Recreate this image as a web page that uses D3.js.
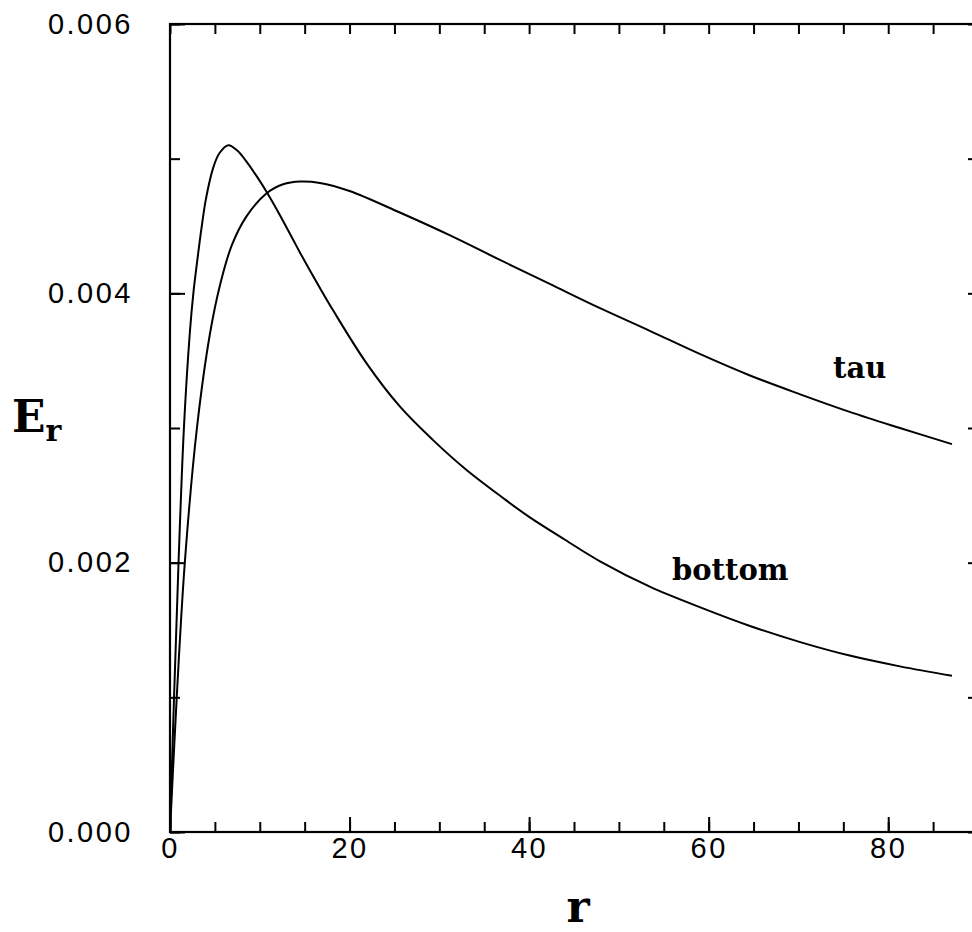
<!DOCTYPE html>
<html lang="en">
<head>
    <meta charset="UTF-8">
    <title>E_r vs r</title>
    <script src="https://cdn.jsdelivr.net/npm/d3@7"></script>
    <style>
        body { margin: 0; background: #fff; }
        .tick text { font-family: "Liberation Sans", Arial, sans-serif; font-size: 29px; letter-spacing: 2.5px; fill: #000; }
        .lbl { font-family: "DejaVu Serif", serif; font-weight: bold; fill: #000; }
    </style>
</head>
<body>
    <div id="root"></div>
    <script>
        // values (E in absolute units)
        const bottomR = [0, 0.45, 0.95, 1.55, 2.2, 2.6, 3.05, 3.5, 4.0, 4.8, 5.5, 6.5, 7.5, 8.5, 9.65, 10.7,
                         12.0, 13.7, 14.5, 16.7, 18.2, 21.9, 25.6, 29.3, 33.0, 37.1, 40, 44, 47.9, 53.5,
                         59.0, 64.6, 70.2, 75.7, 81.3, 87.1];
        const bottomE = [0, 0.00100, 0.00200, 0.00300, 0.00370, 0.00400, 0.00425, 0.00448, 0.00470, 0.00493,
                         0.00504, 0.00510, 0.00506, 0.00498, 0.00487, 0.00476, 0.00461, 0.00440, 0.00430,
                         0.00404, 0.00387, 0.00348, 0.00316, 0.00291, 0.00269, 0.00248, 0.00234, 0.00217,
                         0.00201, 0.00182, 0.00167, 0.00153, 0.00141, 0.00131, 0.00123, 0.00116];
        const tauR = [0, 0.75, 1.65, 3.0, 4.45, 5.6, 6.9, 8.5, 10.7, 12.6, 14.5, 16.7, 20.0, 25.6, 31.2,
                      36.7, 42.3, 47.9, 53.5, 59.0, 64.6, 70.2, 75.7, 81.3, 87.1];
        const tauE = [0, 0.00100, 0.00200, 0.00300, 0.00370, 0.00407, 0.00436, 0.00457, 0.00474, 0.00481,
                      0.00483, 0.00482, 0.00476, 0.00460, 0.00443, 0.00425, 0.00407, 0.00389, 0.00372,
                      0.00355, 0.00339, 0.00325, 0.00312, 0.00300, 0.00288];
        const xMajor = [0, 20, 40, 60, 80];
        const xMinor = d3.range(0, 90, 5);
        const yMajor = [0, 0.002, 0.004, 0.006];
        const yMinor = [0, 0.001, 0.002, 0.003, 0.004, 0.005, 0.006];
        const yLabels = ["0.000", "0.002", "0.004", "0.006"];

        const W = 972, H = 932;
        const x = d3.scaleLinear().domain([0, 90]).range([170, 978]);
        const y = d3.scaleLinear().domain([0, 0.006]).range([832, 24]);

        const svg = d3.select('#root').append('svg')
            .attr('width', W).attr('height', H);

        // bottom axis: minor + major ticks
        svg.append('g').attr('transform', `translate(0,${y(0)})`)
            .call(d3.axisBottom(x).tickValues(xMinor).tickSize(-10).tickFormat(''))
            .call(g => g.select('.domain').remove());
        svg.append('g').attr('transform', `translate(0,${y(0)})`)
            .call(d3.axisBottom(x).tickValues(xMajor).tickSize(-15).tickPadding(5).tickFormat(d3.format('d')))
            .call(g => g.select('.domain').remove());

        // top axis: uniform ticks
        svg.append('g').attr('transform', `translate(0,${y(0.006)})`)
            .call(d3.axisTop(x).tickValues(xMinor).tickSize(-10).tickFormat(''))
            .call(g => g.select('.domain').remove());

        // left axis
        svg.append('g').attr('transform', `translate(${x(0)},0)`)
            .call(d3.axisLeft(y).tickValues(yMinor).tickSize(-10).tickFormat(''))
            .call(g => g.select('.domain').remove());
        svg.append('g').attr('transform', `translate(${x(0)},0)`)
            .call(d3.axisLeft(y).tickValues(yMajor).tickSize(-15).tickPadding(37)
                .tickFormat((d, i) => yLabels[i]))
            .call(g => g.select('.domain').remove());

        // right axis
        svg.append('g').attr('transform', `translate(${x(90)},0)`)
            .call(d3.axisRight(y).tickValues(yMinor).tickSize(-10).tickFormat(''))
            .call(g => g.select('.domain').remove());

        svg.selectAll('.tick line').attr('stroke', '#000').attr('stroke-width', 2);

        // frame
        svg.append('rect')
            .attr('x', x(0)).attr('y', y(0.006))
            .attr('width', x(90) - x(0)).attr('height', y(0) - y(0.006))
            .attr('fill', 'none').attr('stroke', '#000').attr('stroke-width', 2.2);

        const line = d3.line()
            .x(d => x(d[0])).y(d => y(d[1]))
            .curve(d3.curveCatmullRom.alpha(0.5));

        const series = [
            { r: bottomR, e: bottomE },
            { r: tauR, e: tauE }
        ];
        svg.selectAll('path.curve')
            .data(series)
            .enter()
            .append('path')
            .attr('class', 'curve')
            .attr('d', s => line(s.r.map((r, i) => [r, s.e[i]])))
            .attr('fill', 'none')
            .attr('stroke', '#000')
            .attr('stroke-width', 2);

        // curve labels
        svg.append('text').attr('class', 'lbl')
            .attr('x', 833).attr('y', 378).attr('font-size', 29).text('tau');
        svg.append('text').attr('class', 'lbl')
            .attr('x', 672).attr('y', 580).attr('font-size', 29).text('bottom');

        // axis titles
        svg.append('text').attr('class', 'lbl')
            .attr('x', 578).attr('y', 922).attr('text-anchor', 'middle')
            .attr('font-size', 44).text('r');
        const yt = svg.append('text').attr('class', 'lbl')
            .attr('x', 12).attr('y', 432).attr('font-size', 44);
        yt.append('tspan').text('E');
        yt.append('tspan').attr('font-size', 30).attr('dy', 9).text('r');
    </script>
</body>
</html>
